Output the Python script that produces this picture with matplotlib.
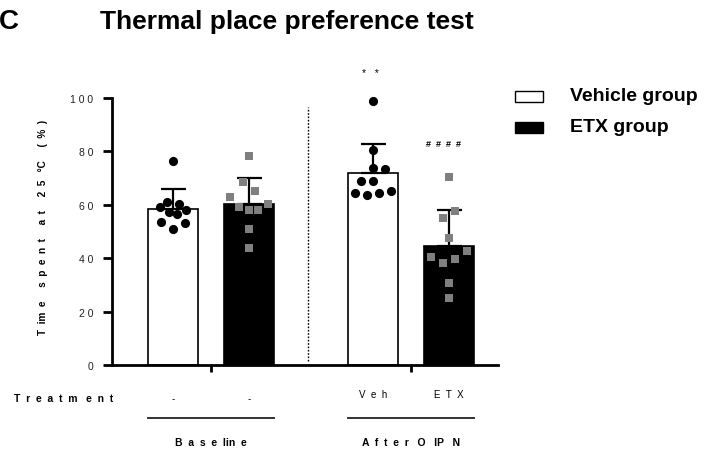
import matplotlib
matplotlib.use("Agg")
import matplotlib.pyplot as plt
from matplotlib.patches import Rectangle
from matplotlib.lines import Line2D

plt.rcParams['font.family'] = ['Liberation Sans', 'DejaVu Sans']

# ---- data ----
groups = ["Baseline", "After OIPN"]
treatments = ["-", "-", "Veh", "ETX"]
bar_means = [58.5, 60.4, 72.0, 44.7]
bar_sem = [7.4, 9.6, 10.9, 13.5]
bar_pos = [0.0, 1.0, 2.65, 3.65]

veh_base_y = [76.5, 61.0, 60.3, 59.3, 58.2, 57.4, 56.6, 53.7, 53.2, 50.8]
veh_base_dx = [0.0, -0.08, 0.08, -0.17, 0.17, -0.05, 0.05, -0.16, 0.16, 0.0]
etx_base_y = [78.3, 68.7, 65.0, 62.8, 59.3, 60.4, 58.2, 58.2, 50.8, 43.7]
etx_base_dx = [0.0, -0.08, 0.08, -0.25, -0.13, 0.25, 0.0, 0.12, 0.0, 0.0]
veh_after_y = [98.8, 80.5, 73.8, 73.3, 68.8, 68.8, 64.3, 63.7, 64.3, 65.3]
veh_after_dx = [0.0, 0.0, 0.0, 0.16, -0.16, 0.0, -0.24, -0.08, 0.08, 0.24]
etx_after_y = [70.4, 57.5, 54.9, 47.6, 42.6, 40.3, 39.8, 38.1, 30.8, 25.2]
etx_after_dx = [0.0, 0.08, -0.08, 0.0, 0.24, -0.24, 0.08, -0.08, 0.0, 0.0]

yticks = [0, 20, 40, 60, 80, 100]

def spaced(s, gap="  "):
    return gap.join(list(s))

W, H = 715, 452
fig = plt.figure(figsize=(W / 100, H / 100), dpi=100)
ax = fig.add_axes([112 / W, (H - 366) / H, (498 - 112) / W, (366 - 99) / H])
ax.set_xlim(-0.81, 4.30)
ax.set_ylim(0, 100)

colors = ["white", "black", "white", "black"]
for x, m, e, c in zip(bar_pos, bar_means, bar_sem, colors):
    ax.bar(x, m, width=0.66, color=c, edgecolor="black", linewidth=1.2, zorder=2)
    ax.errorbar(x, m, yerr=[[0], [e]], color="black", capsize=9, capthick=1.6,
                elinewidth=1.6, zorder=4, clip_on=False)

def dots(x0, dx, ys, marker, color, ms):
    ax.plot([x0 + d for d in dx], ys, linestyle="none", marker=marker, color=color,
            markersize=ms, markeredgewidth=0, zorder=5, clip_on=False)

dots(bar_pos[0], veh_base_dx, veh_base_y, "o", "black", 6.6)
dots(bar_pos[1], etx_base_dx, etx_base_y, "s", "#7f7f7f", 6.0)
dots(bar_pos[2], veh_after_dx, veh_after_y, "o", "black", 6.6)
dots(bar_pos[3], etx_after_dx, etx_after_y, "s", "#7f7f7f", 6.0)

# dotted separator
ax.plot([1.79, 1.79], [1.5, 96.6], linestyle=(0, (1.2, 1.2)), color="black", linewidth=1.0, zorder=1)

# significance
ax.text(bar_pos[2] - 0.04, 109.5, "*   *", ha="center", va="center", fontsize=7.5, clip_on=False)
ax.text(bar_pos[3] - 0.07, 83.0, "#  #  #  #", ha="center", va="center", fontsize=6.5, fontweight="bold")

# axes styling
for s in ["top", "right"]:
    ax.spines[s].set_visible(False)
ax.spines["left"].set_linewidth(2.0)
ax.spines["bottom"].set_linewidth(2.0)
ax.set_yticks(yticks)
ax.set_yticklabels([spaced(str(t), " ") for t in yticks], fontsize=7.5, color="#222222")
ax.tick_params(axis="y", length=6.5, width=2.0, pad=7)
ax.set_xticks([0.5, 3.15])
ax.set_xticklabels(["", ""])
ax.tick_params(axis="x", length=5, width=2.0)

fig.text(43 / W, 1 - 227 / H, "T  im  e     s  p  e  n  t     a  t     2  5   °C     (  %  )", rotation=90,
         ha="center", va="center", fontsize=7.2, fontweight="bold")

# title and panel letter
fig.text(-1 / W, 1 - 22 / H, "C", ha="left", va="center", fontsize=20, fontweight="bold")
fig.text(100 / W, 1 - 22 / H, "Thermal place preference test", ha="left", va="center",
         fontsize=19, fontweight="bold")

# treatment row
fig.text(14 / W, 1 - 399 / H, "T  r  e  a  t  m   e  n  t", ha="left", va="center", fontsize=7.5, fontweight="bold")
for x, t in zip(bar_pos, treatments):
    xd = ax.transData.transform((x, 0))[0] / W
    yy = 399 if t == "-" else 395
    fig.text(xd, 1 - yy / H, spaced(t), ha="center", va="center", fontsize=7)

# group lines and labels
for gi, g in enumerate(groups):
    x0 = ax.transData.transform((bar_pos[2 * gi] - 0.33, 0))[0] / W
    x1 = ax.transData.transform((bar_pos[2 * gi + 1] + 0.33, 0))[0] / W
    fig.add_artist(Line2D([x0, x1], [1 - 419 / H, 1 - 419 / H], color="#333333", linewidth=1.4))
    glabel = "B  a  s  e  lin  e" if gi == 0 else "A  f  t  e  r   O   IP   N"
    fig.text((x0 + x1) / 2, 1 - 443 / H, glabel, ha="center", va="center", fontsize=7.5, fontweight="bold")

# legend
fig.add_artist(Rectangle((515 / W, 1 - 103 / H), 28 / W, 11 / H, facecolor="white",
                         edgecolor="black", linewidth=1.0))
fig.add_artist(Rectangle((515 / W, 1 - 134 / H), 28 / W, 11 / H, facecolor="black",
                         edgecolor="black", linewidth=1.0))
fig.text(570 / W, 1 - 97 / H, "Vehicle group", ha="left", va="center", fontsize=14, fontweight="bold")
fig.text(570 / W, 1 - 128 / H, "ETX group", ha="left", va="center", fontsize=14, fontweight="bold")

fig.savefig("out.png", dpi=100)
